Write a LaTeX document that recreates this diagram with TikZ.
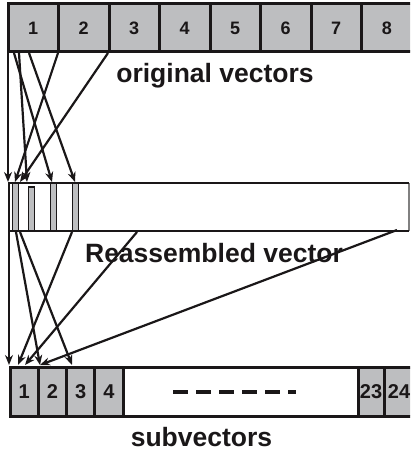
\documentclass[tikz,border=0pt]{standalone}
\usepackage{fontspec}
\setmainfont{Liberation Sans}
\usetikzlibrary{arrows.meta}
\definecolor{cellgray}{HTML}{BDBEC0}
\definecolor{ink}{HTML}{1A1718}
\begin{document}
\begin{tikzpicture}[x=1pt,y=-1pt,
  topcell/.style={draw=ink,fill=cellgray,line width=3pt,minimum width=50.5pt,minimum height=48pt,anchor=north west,inner sep=0pt,outer sep=0pt,font=\bfseries\fontsize{18}{18}\selectfont,text=ink},
  subcell/.style={draw=ink,fill=cellgray,line width=3pt,minimum height=49pt,anchor=north west,inner sep=0pt,outer sep=0pt,font=\bfseries\fontsize{20}{20}\selectfont,text=ink},
  slot/.style={draw=ink,fill=cellgray,line width=1.3pt},
  label/.style={font=\bfseries\fontsize{26.5}{26.5}\selectfont,text=ink,anchor=base,inner sep=0pt},
  conn/.style={draw=ink,line width=2.2pt,-{Stealth[length=10pt,width=8pt]}}
]
\useasboundingbox (0,0) rectangle (410,452);
\clip (0,0) rectangle (410,452);

% top row: original vectors
\foreach \i in {1,...,8}{
  \node[topcell] (c\i) at ({8+50.5*(\i-1)},4) {\raisebox{-2pt}{\i}};
}
\node[label] (orig) at (215,82) {original vectors};

% reassembled vector
\coordinate (rnw) at (9,183);
\coordinate (rne) at (409,183);
\coordinate (rsw) at (9,231);
\coordinate (rse) at (409,231);
\draw[ink!55,line width=1.2pt] (rne) -- (rse);
\draw[ink,line width=2.6pt] (rse) -- (rsw) -- (rnw) -- (rne);
\draw[slot] (12.8,183) rectangle (18.2,231);
\draw[slot] (28.5,187) rectangle (34.5,231);
\draw[slot] (50.5,183) rectangle (56.5,231);
\draw[slot] (72.5,183) rectangle (78.5,231);
\node[label] (reas) at (214,262) {Reassembled vector};

% subvectors
\fill[white] (10,367) rectangle (436,416);
\foreach \i/\x in {1/10,2/38.25,3/66.5,4/94.75}{
  \node[subcell,minimum width=28.25pt] (s\i) at (\x,367) {\i};
}
\node[subcell,minimum width=26pt] (s23) at (358,367) {23};
\node[subcell,minimum width=30pt] (s24) at (384,367) {24};
\draw[ink,line width=3pt] (s4.north east) -- (s23.north west);
\draw[ink,line width=3pt] (s4.south east) -- (s23.south west);
\coordinate (d1) at (173,392);
\coordinate (d2) at (296,392);
\draw[ink,line width=4.5pt,dash pattern=on 15pt off 8pt] (d1) -- (d2);
\node[label] (subv) at (201.5,446) {subvectors};

% connectors: original -> reassembled
\coordinate (t1) at (8,53);   \coordinate (u1) at (8,182);
\coordinate (t2) at (14,53);  \coordinate (u2) at (52,182);
\coordinate (t3) at (19,53);  \coordinate (u3) at (27,182);
\coordinate (t4) at (29,53);  \coordinate (u4) at (75,182);
\coordinate (t5) at (58,53);  \coordinate (u5) at (15,182);
\coordinate (t6) at (108,53); \coordinate (u6) at (20,182);
\foreach \k in {1,...,6}{ \draw[conn] (t\k) -- (u\k); }

% connectors: reassembled -> subvectors
\coordinate (r1) at (9,232);   \coordinate (v1) at (9,365);
\coordinate (r2) at (16,232);  \coordinate (v2) at (40,365);
\coordinate (r3) at (20,232);  \coordinate (v3) at (72,365);
\coordinate (r4) at (72,232);  \coordinate (v4) at (18,365);
\coordinate (r5) at (137,232); \coordinate (v5) at (25,365);
\coordinate (r6) at (397,230); \coordinate (v6) at (40,365);
\foreach \k in {1,...,6}{ \draw[conn] (r\k) -- (v\k); }
\end{tikzpicture}
\end{document}
